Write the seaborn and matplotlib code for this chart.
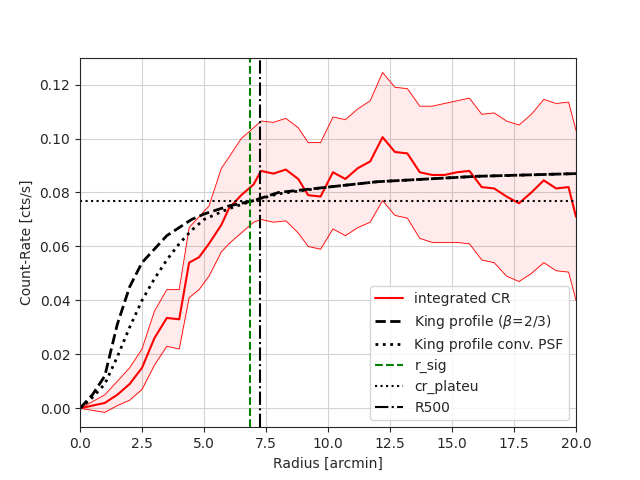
import numpy as np
import matplotlib
matplotlib.use("Agg")
import matplotlib.pyplot as plt
import seaborn as sns

# integrated count rate profile
radius = [0, 1.0, 1.5, 2.0, 2.5, 3.0, 3.5, 4.0, 4.4, 4.8, 5.2, 5.7, 6.0, 6.5, 7.0, 7.3,
          7.8, 8.3, 8.8, 9.2, 9.7, 10.2, 10.7, 11.2, 11.7, 12.2, 12.7, 13.2, 13.7, 14.2,
          14.7, 15.2, 15.7, 16.2, 16.7, 17.2, 17.7, 18.2, 18.7, 19.2, 19.7, 20.0]
cr = [0, 0.002, 0.005, 0.009, 0.015, 0.026, 0.0335, 0.033, 0.054, 0.056, 0.061, 0.068,
      0.074, 0.079, 0.083, 0.088, 0.087, 0.0885, 0.085, 0.079, 0.0785, 0.0875, 0.085,
      0.089, 0.0915, 0.1005, 0.095, 0.0945, 0.0875, 0.0865, 0.0865, 0.0875, 0.088, 0.082,
      0.0815, 0.0785, 0.076, 0.080, 0.0845, 0.0815, 0.082, 0.071]
cr_hi = [0, 0.005, 0.01, 0.015, 0.022, 0.036, 0.044, 0.044, 0.067, 0.071, 0.075, 0.089,
         0.093, 0.1, 0.104, 0.1065, 0.106, 0.1075, 0.104, 0.0985, 0.0985, 0.108, 0.107,
         0.111, 0.114, 0.1245, 0.119, 0.1185, 0.112, 0.112, 0.113, 0.114, 0.115, 0.109,
         0.1095, 0.1065, 0.105, 0.109, 0.1145, 0.113, 0.1135, 0.103]
cr_lo = [0, -0.0015, 0.001, 0.003, 0.007, 0.016, 0.023, 0.022, 0.041, 0.044, 0.049, 0.058,
         0.061, 0.065, 0.069, 0.070, 0.069, 0.0695, 0.065, 0.060, 0.059, 0.0665, 0.064,
         0.067, 0.069, 0.077, 0.0715, 0.0705, 0.063, 0.0615, 0.0615, 0.0615, 0.061, 0.055,
         0.054, 0.049, 0.047, 0.050, 0.054, 0.051, 0.0505, 0.040]

# model curves
r_model = [0, 0.5, 1, 1.5, 2, 2.5, 3, 3.5, 4, 4.5, 5, 6, 7, 8, 10, 12, 14, 16, 18, 20]
king = [0, 0.005, 0.012, 0.031, 0.045, 0.054, 0.059, 0.064, 0.067, 0.070, 0.072, 0.075,
        0.077, 0.080, 0.082, 0.084, 0.085, 0.086, 0.0865, 0.087]
king_psf = [0, 0.004, 0.009, 0.019, 0.030, 0.040, 0.048, 0.055, 0.061, 0.066, 0.070, 0.074,
            0.077, 0.0795, 0.082, 0.084, 0.085, 0.086, 0.0865, 0.087]

cr_plateau = 0.0767
r_sig = 6.85
r500 = 7.25

sns.set_style("ticks")
plt.rcParams["font.family"] = ["DejaVu Sans"]

fig, ax = plt.subplots(figsize=(6.4, 4.8), dpi=100)
ax.grid(True, color="#d3d3d3")
ax.set_axisbelow(True)

ax.fill_between(radius, cr_lo, cr_hi, color="red", alpha=0.08)
sns.lineplot(x=radius, y=cr_hi, ax=ax, color="red", lw=0.6)
sns.lineplot(x=radius, y=cr_lo, ax=ax, color="red", lw=0.6)
sns.lineplot(x=radius, y=cr, ax=ax, color="red", lw=1.5, label="integrated CR")
sns.lineplot(x=r_model, y=king, ax=ax, color="black", lw=2, ls="--",
             label=r"King profile ($\beta$=2/3)")
sns.lineplot(x=r_model, y=king_psf, ax=ax, color="black", lw=2, ls=":",
             label="King profile conv. PSF")
ax.axvline(r_sig, color="green", ls="--", lw=1.5, label="r_sig")
ax.axhline(cr_plateau, color="black", ls=":", lw=1.5, label="cr_plateu")
ax.axvline(r500, color="black", ls="-.", lw=1.5, label="R500")

ax.set_xlim(0, 20)
ax.set_ylim(-0.007, 0.13)
ax.set_xlabel("Radius [arcmin]")
ax.set_ylabel("Count-Rate [cts/s]")
ax.legend(loc="lower right", fontsize=10)
for s in ax.spines.values():
    s.set_visible(True)

fig.savefig("out.png", dpi=100)
